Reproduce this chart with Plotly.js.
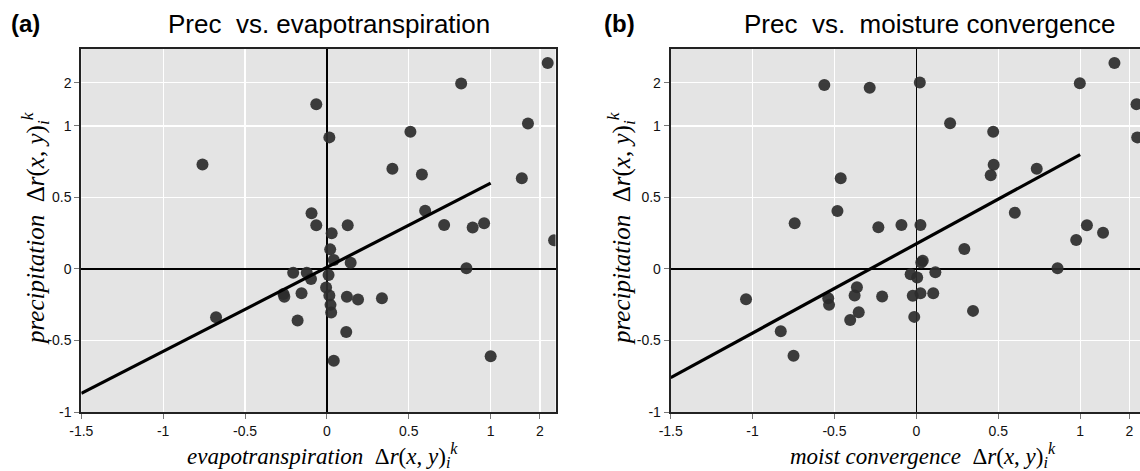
<!DOCTYPE html>
<html>
<head>
<meta charset="utf-8">
<script src="https://cdn.plot.ly/plotly-3.0.1.min.js"></script>
<style>
html, body { margin:0; padding:0; overflow:hidden; background:#fff; }
#chart { width:1146px; height:471px; }
</style>
</head>
<body>
<div id="chart"></div>
<script>
// ---- data ----
const evapX = [2.23, 0.82, -0.065, 0.015, 0.51, 1.69, -0.76, 0.40, 0.58, 1.55,
  -0.094, -0.065, 0.127, 0.60, 0.716, 0.89, 0.96, 0.029, 2.44, 0.02,
  0.042, 0.145, 0.852, -0.206, -0.123, -0.097, 0.01, -0.005, -0.265, -0.26,
  -0.155, 0.015, 0.022, 0.026, 0.122, 0.19, 0.336, -0.677, -0.179, 0.118,
  1.0, 0.042];
const precA = [2.75, 1.98, 1.42, 0.92, 0.96, 1.04, 0.73, 0.70, 0.66, 0.635,
  0.39, 0.305, 0.305, 0.407, 0.307, 0.29, 0.32, 0.25, 0.20, 0.137,
  0.063, 0.044, 0.005, -0.026, -0.026, -0.07, -0.042, -0.13, -0.175, -0.195,
  -0.17, -0.186, -0.251, -0.305, -0.195, -0.214, -0.205, -0.337, -0.36, -0.44,
  -0.61, -0.642];

const moistX = [-0.562, -0.285, 0.021, 0.998, 1.62, 2.21, 2.23, 0.206, 0.469, 0.472,
  0.454, 0.735, -0.462, -0.482, 0.601, -0.743, -0.232, -0.091, 0.025, 1.10,
  1.38, 0.976, 0.293, 0.039, 0.03, 0.862, -0.035, 0.005, 0.116, -1.04,
  -0.538, -0.533, -0.363, -0.377, -0.209, -0.022, 0.025, 0.103, 0.346, -0.352,
  -0.404, -0.013, -0.828, -0.75];
const precB = [1.93, 1.85, 2.01, 1.99, 2.75, 1.42, 0.92, 1.045, 0.96, 0.728,
  0.656, 0.70, 0.635, 0.405, 0.393, 0.319, 0.291, 0.307, 0.307, 0.305,
  0.253, 0.202, 0.14, 0.058, 0.045, 0.005, -0.037, -0.06, -0.023, -0.212,
  -0.205, -0.251, -0.128, -0.186, -0.193, -0.188, -0.17, -0.17, -0.293, -0.302,
  -0.356, -0.335, -0.435, -0.607];

// regression lines (end points)
const fitX = [-1.5, 1.0];
const fitA = [-0.87, 0.60];
const fitB = [-0.76, 0.80];

// tick labels
const xTicks = [-1.5, -1, -0.5, 0, 0.5, 1, 2];
const yTicks = [-1, -0.5, 0, 0.5, 1, 2];

// ---- axis scale of the figure: linear up to 1, log-compressed above 1 ----
function tr(v) { return v <= 1 ? v : 1 + Math.log10(v); }
const T = a => a.map(tr);

const W = 1146, H = 471;
const px = v => v / W, py = v => 1 - v / H;

const ptColor = 'rgba(45,45,45,0.92)';
const traces = [
  {x:T(evapX), y:T(precA), xaxis:'x', yaxis:'y', mode:'markers', type:'scatter',
   marker:{size:12, color:ptColor}, hoverinfo:'skip'},
  {x:T(fitX), y:T(fitA), xaxis:'x', yaxis:'y', mode:'lines', type:'scatter',
   line:{color:'#000', width:3.2}, hoverinfo:'skip'},
  {x:T(moistX), y:T(precB), xaxis:'x2', yaxis:'y2', mode:'markers', type:'scatter',
   marker:{size:12, color:ptColor}, hoverinfo:'skip'},
  {x:T(fitX), y:T(fitB), xaxis:'x2', yaxis:'y2', mode:'lines', type:'scatter',
   line:{color:'#000', width:3.2}, hoverinfo:'skip'}
];

const tickFont = {family:'Liberation Sans, Arial, sans-serif', size:14, color:'#111'};
function xAxis(dom, anchor) {
  return {domain:dom, anchor:anchor, range:[-1.5, 1.396], tickmode:'array',
    tickvals:T(xTicks), ticktext:xTicks.map(String), tickfont:tickFont,
    ticks:'outside', ticklen:5, tickcolor:'#777', tickwidth:1,
    showgrid:true, gridcolor:'#ffffff', gridwidth:1.2,
    zeroline:true, zerolinecolor:'#000', zerolinewidth:1.2,
    showline:true, linecolor:'#222', linewidth:2, mirror:true,
    automargin:false, fixedrange:true};
}
function yAxis(dom, anchor) {
  return {domain:dom, anchor:anchor, range:[-1, 1.54], tickmode:'array',
    tickvals:T(yTicks), ticktext:yTicks.map(String), tickfont:tickFont,
    ticks:'outside', ticklen:5, tickcolor:'#777', tickwidth:1,
    showgrid:true, gridcolor:'#ffffff', gridwidth:1.2,
    zeroline:true, zerolinecolor:'#000', zerolinewidth:1.2,
    showline:true, linecolor:'#222', linewidth:2, mirror:true,
    automargin:false, fixedrange:true};
}

const yDom = [(H - 412) / H, (H - 48.7) / H];
const serifX = {family:'Liberation Serif, Times New Roman, serif', size:23, color:'#000'};
const serifY = {family:'Liberation Serif, Times New Roman, serif', size:25, color:'#000'};
const titleFont = {family:'Liberation Sans, Arial, sans-serif', size:26, color:'#000'};
const labFont = {family:'Liberation Sans, Arial, sans-serif', size:24, color:'#000'};

function ann(text, x, y, font, angle) {
  return {text:text, x:px(x), y:py(y), xref:'paper', yref:'paper', showarrow:false,
    xanchor:'center', yanchor:'middle', font:font, textangle:angle || 0};
}
const dr = 'Δ<i>r</i>(<i>x</i>, <i>y</i>)<sub><i>i</i></sub><sup><i>k</i></sup>';

const layout = {
  width:W, height:H, margin:{l:0, r:0, t:0, b:0}, showlegend:false,
  paper_bgcolor:'#ffffff', plot_bgcolor:'#e4e4e4',
  xaxis: xAxis([81.3 / W, 555.5 / W], 'y'),
  yaxis: yAxis(yDom, 'x'),
  xaxis2: xAxis([670.7 / W, 1145 / W], 'y2'),
  yaxis2: yAxis(yDom, 'x2'),
  annotations: [
    ann('<b>(a)</b>', 25, 24, labFont),
    ann('<b>(b)</b>', 619.5, 24, labFont),
    ann('Prec  vs. evapotranspiration', 329, 24, titleFont),
    ann('Prec  vs.  moisture convergence', 929, 24, titleFont),
    ann('<i>evapotranspiration</i>  ' + dr, 322, 455, serifX),
    ann('<i>moist convergence</i>  ' + dr, 923, 455, serifX),
    ann('<i>precipitation</i>  ' + dr, 35, 228, serifY, -90),
    ann('<i>precipitation</i>  ' + dr, 621, 228, serifY, -90)
  ]
};

Plotly.newPlot('chart', traces, layout, {staticPlot:true, displayModeBar:false});
</script>
</body>
</html>
